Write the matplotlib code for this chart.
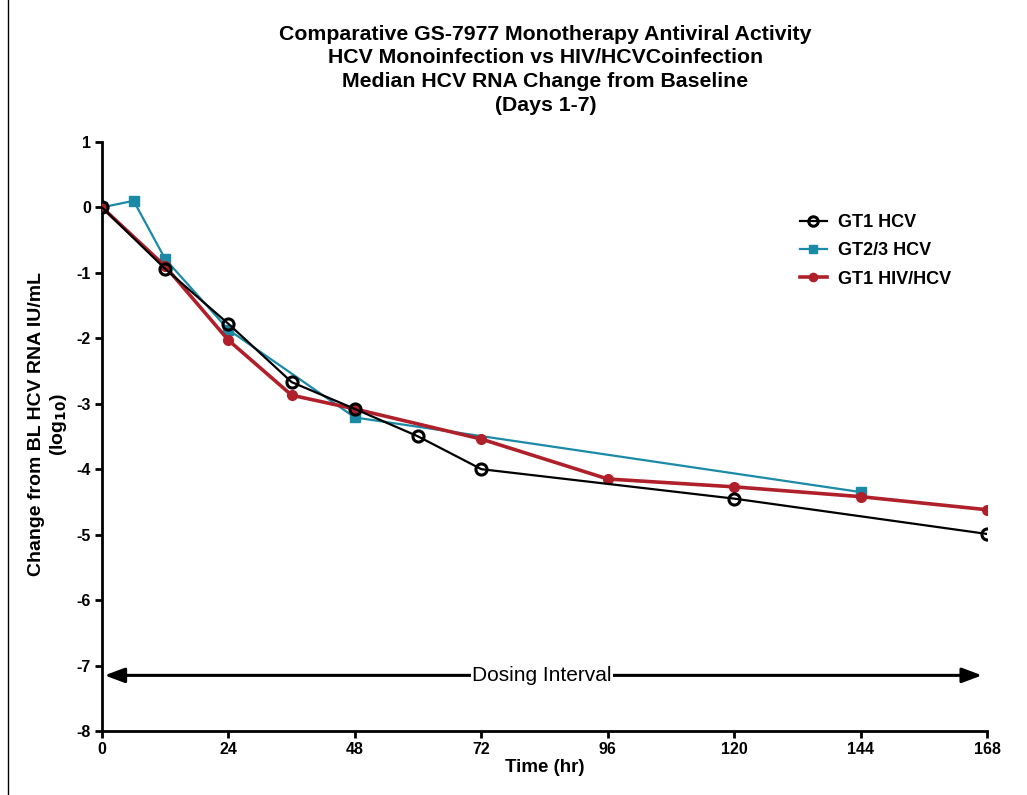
import matplotlib
matplotlib.use("Agg")
import matplotlib.pyplot as plt
from matplotlib.lines import Line2D

plt.rcParams['font.family'] = ['Liberation Sans', 'DejaVu Sans']
plt.rcParams['axes.unicode_minus'] = False

gt1_hcv_x = [0, 12, 24, 36, 48, 60, 72, 120, 168]
gt1_hcv_y = [0, -0.94, -1.78, -2.67, -3.08, -3.50, -4.0, -4.45, -4.99]

gt23_hcv_x = [0, 6, 12, 24, 48, 144]
gt23_hcv_y = [0, 0.10, -0.79, -1.87, -3.21, -4.35]

gt1_hivhcv_x = [0, 12, 24, 36, 48, 72, 96, 120, 144, 168]
gt1_hivhcv_y = [0, -0.90, -2.03, -2.87, -3.08, -3.54, -4.15, -4.27, -4.42, -4.62]

x_ticks = [0, 24, 48, 72, 96, 120, 144, 168]
y_ticks = [1, 0, -1, -2, -3, -4, -5, -6, -7, -8]

fig = plt.figure(figsize=(10.27, 7.95), dpi=100)
ax = fig.add_axes([0.0993, 0.0805, 0.862, 0.741])

ax.plot(gt1_hcv_x, gt1_hcv_y, color='black', lw=1.6, marker='o', ms=8,
        mfc='none', mec='black', mew=2.2, label='GT1 HCV', zorder=4)
ax.plot(gt23_hcv_x, gt23_hcv_y, color='#1a8aa6', lw=1.6, marker='s', ms=7,
        mfc='#1a8aa6', mec='#1a8aa6', label='GT2/3 HCV', zorder=3)
ax.plot(gt1_hivhcv_x, gt1_hivhcv_y, color='#b0202a', lw=2.6, marker='o', ms=7,
        mfc='#b0202a', mec='#b0202a', label='GT1 HIV/HCV', zorder=3.5)

ax.set_xlim(0, 168)
ax.set_ylim(-8, 1)
ax.set_xticks(x_ticks)
ax.set_yticks(y_ticks)
ax.tick_params(direction='out', width=2, length=5, labelsize=11.5, pad=3)
for lab in ax.get_xticklabels() + ax.get_yticklabels():
    lab.set_fontweight('bold')
for s in ['top', 'right']:
    ax.spines[s].set_visible(False)
for s in ['left', 'bottom']:
    ax.spines[s].set_linewidth(2)

ax.set_xlabel('Time (hr)', fontsize=13.5, fontweight='bold', labelpad=1)
ax.set_ylabel('Change from BL HCV RNA IU/mL\n(log$_{\\mathbf{10}}$)', fontsize=14,
              fontweight='bold')
ax.yaxis.set_label_coords(-0.037, 0.521)

ax.annotate('', xy=(0.5, -7.15), xytext=(83.5, -7.15),
            arrowprops=dict(arrowstyle='-|>,head_length=1.2,head_width=0.45',
                            color='black', lw=2.2, shrinkA=0, shrinkB=0))
ax.annotate('', xy=(167, -7.15), xytext=(83.5, -7.15),
            arrowprops=dict(arrowstyle='-|>,head_length=1.2,head_width=0.45',
                            color='black', lw=2.2, shrinkA=0, shrinkB=0))
ax.text(83.5, -7.15, 'Dosing Interval', ha='center', va='center', fontsize=15,
        bbox=dict(facecolor='white', edgecolor='none', pad=1), zorder=5)

fig.text(0.531, 0.969, 'Comparative GS-7977 Monotherapy Antiviral Activity\n'
         'HCV Monoinfection vs HIV/HCVCoinfection\n'
         'Median HCV RNA Change from Baseline\n(Days 1-7)',
         ha='center', va='top', fontsize=15.3, fontweight='bold', linespacing=1.31)

leg = ax.legend(loc='upper left', bbox_to_anchor=(0.77, 0.905), frameon=False,
                prop={'weight': 'bold', 'size': 13}, handlelength=1.5,
                handletextpad=0.6, labelspacing=0.62, markerscale=0.85)

fig.add_artist(Line2D([0.008, 0.008], [0.0, 1.0], color='black', lw=1))

fig.savefig('out.png', dpi=100)
